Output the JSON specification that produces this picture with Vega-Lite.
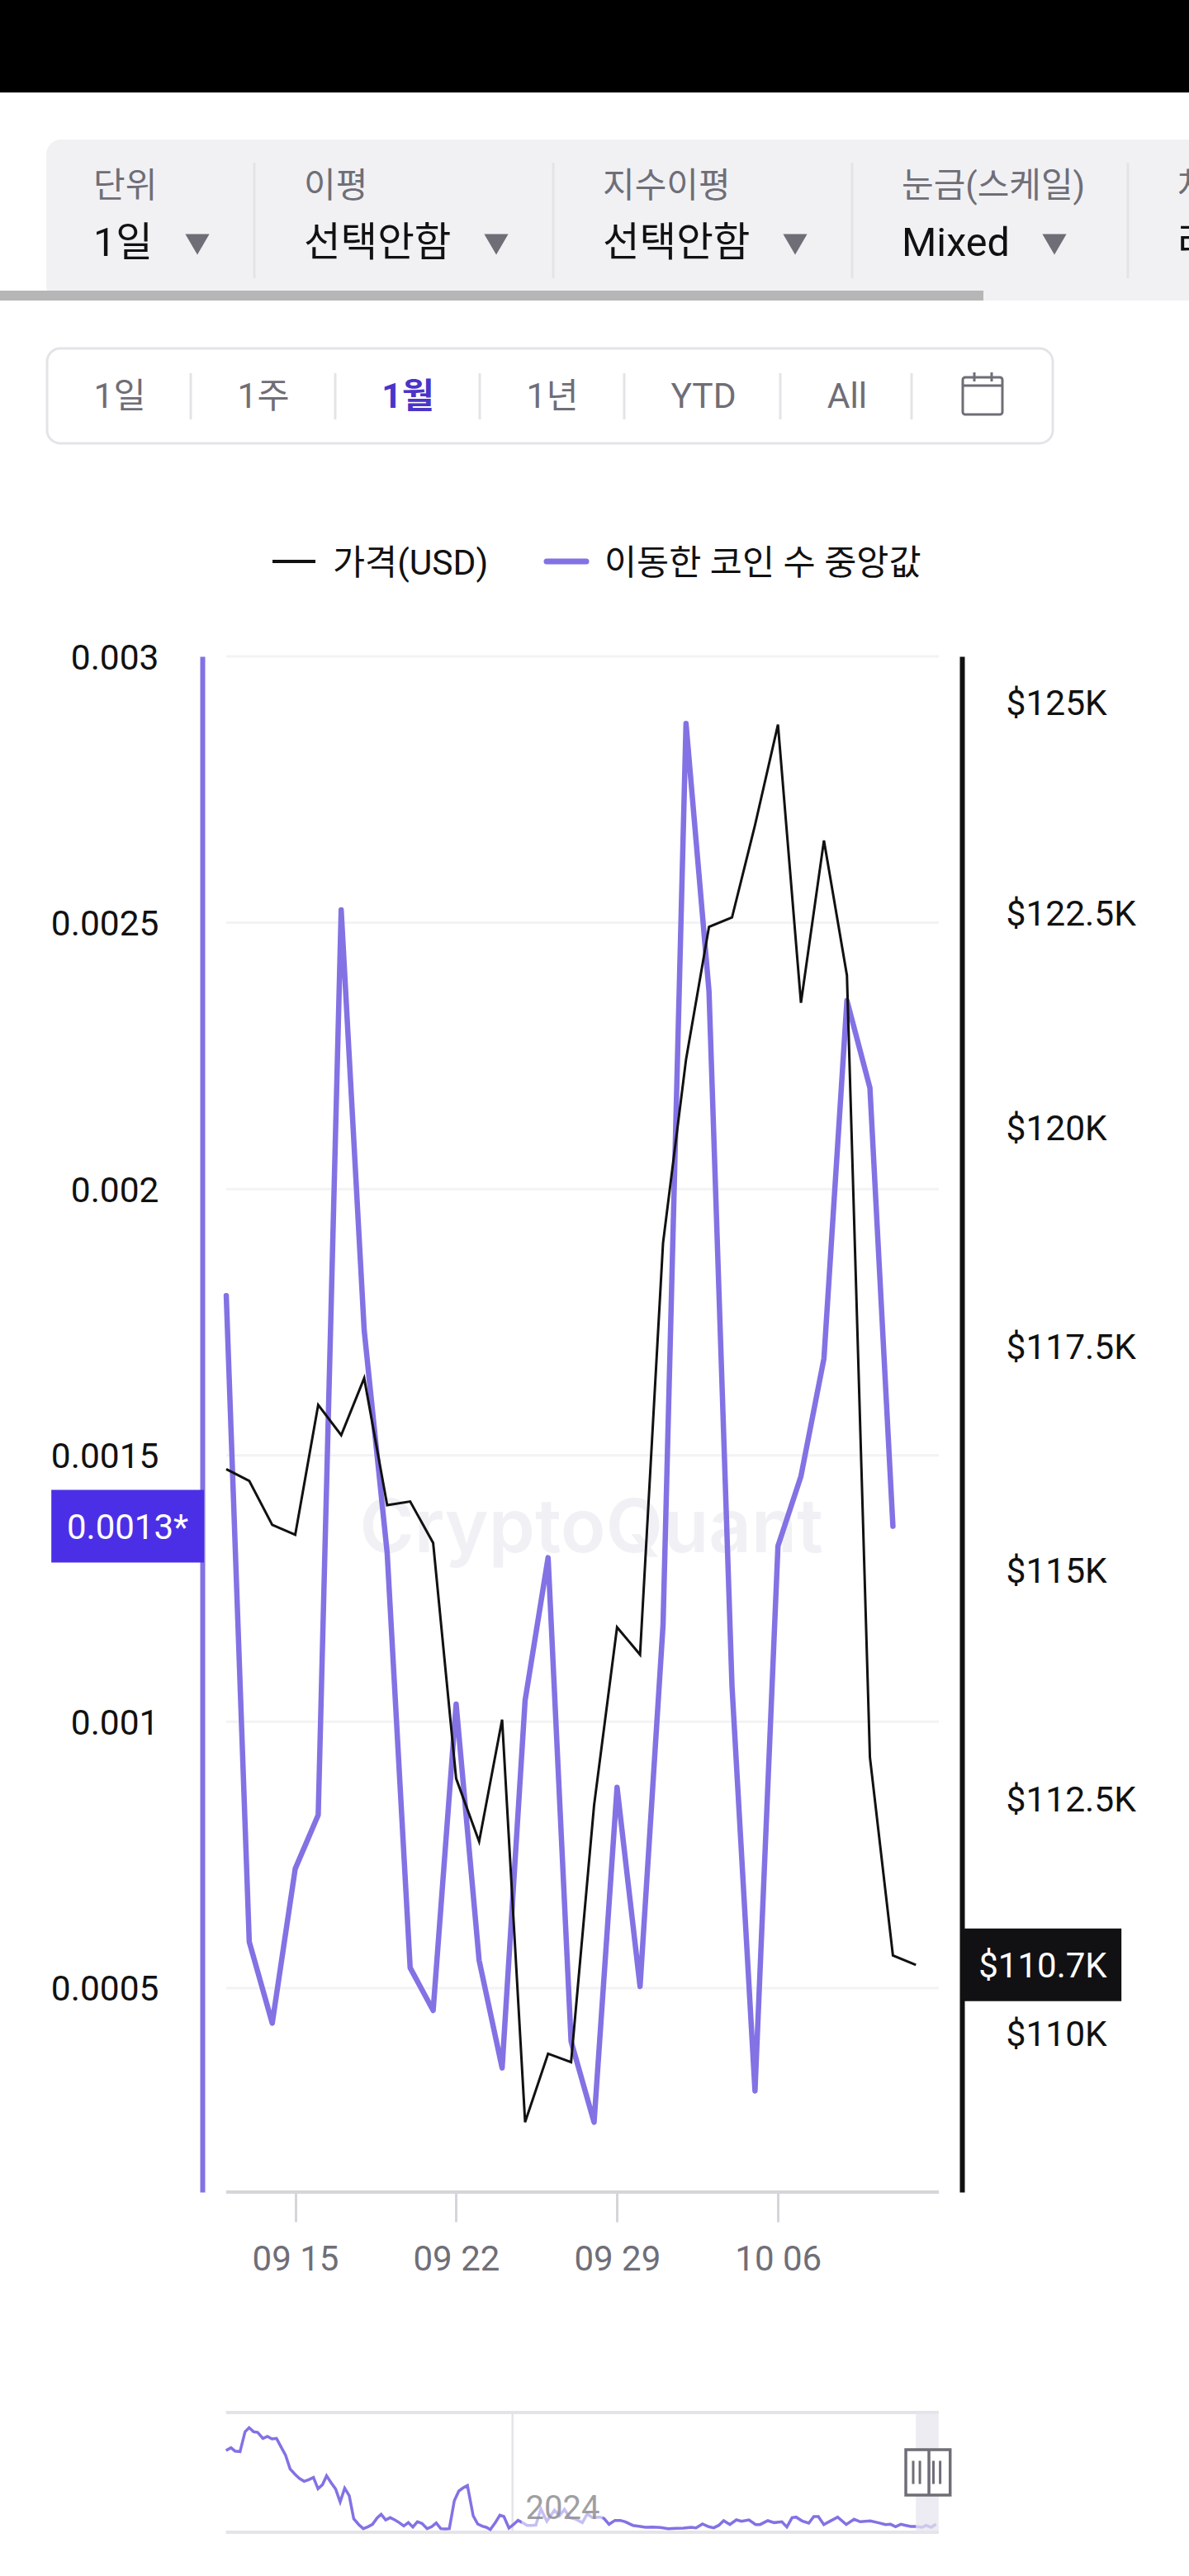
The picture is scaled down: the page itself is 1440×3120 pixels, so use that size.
{
  "$schema": "https://vega.github.io/schema/vega-lite/v6.json",
  "background": "white",
  "padding": 0,
  "spacing": 0,
  "bounds": "flush",
  "config": {
    "font": "Roboto, 'Noto Sans CJK KR', sans-serif",
    "view": {"stroke": null},
    "text": {"font": "Roboto, 'Noto Sans CJK KR', sans-serif"}
  },
  "datasets": {
    "daily": [
      {"date": "2025-09-12", "price": 116120, "median": 0.0018},
      {"date": "2025-09-13", "price": 115990, "median": 0.000587},
      {"date": "2025-09-14", "price": 115500, "median": 0.000434},
      {"date": "2025-09-15", "price": 115390, "median": 0.000724},
      {"date": "2025-09-16", "price": 116840, "median": 0.000825},
      {"date": "2025-09-17", "price": 116500, "median": 0.002524},
      {"date": "2025-09-18", "price": 117140, "median": 0.001735},
      {"date": "2025-09-19", "price": 115720, "median": 0.001317},
      {"date": "2025-09-20", "price": 115760, "median": 0.000538},
      {"date": "2025-09-21", "price": 115300, "median": 0.000458},
      {"date": "2025-09-22", "price": 112720, "median": 0.001033},
      {"date": "2025-09-23", "price": 112040, "median": 0.000552},
      {"date": "2025-09-24", "price": 113360, "median": 0.00035},
      {"date": "2025-09-25", "price": 109060, "median": 0.00104},
      {"date": "2025-09-26", "price": 109780, "median": 0.001308},
      {"date": "2025-09-27", "price": 109690, "median": 0.0004},
      {"date": "2025-09-28", "price": 112430, "median": 0.000248},
      {"date": "2025-09-29", "price": 114370, "median": 0.000877},
      {"date": "2025-09-30", "price": 114070, "median": 0.000503},
      {"date": "2025-10-01", "price": 118670, "median": 0.001181},
      {"date": "2025-10-02", "price": 120780, "median": 0.002874},
      {"date": "2025-10-03", "price": 122330, "median": 0.002371},
      {"date": "2025-10-04", "price": 122440, "median": 0.001067},
      {"date": "2025-10-05", "price": 123530, "median": 0.000307},
      {"date": "2025-10-06", "price": 124730, "median": 0.00133},
      {"date": "2025-10-07", "price": 121440, "median": 0.001461},
      {"date": "2025-10-08", "price": 123350, "median": 0.001682},
      {"date": "2025-10-09", "price": 121760, "median": 0.002354},
      {"date": "2025-10-10", "price": 112950, "median": 0.00219},
      {"date": "2025-10-11", "price": 110820, "median": 0.001367},
      {"date": "2025-10-12", "price": 110720, "median": null}
    ],
    "history": [
      {"year": 2022.798, "median": 0.02048}, {"year": 2022.819, "median": 0.02117}, {"year": 2022.836, "median": 0.02034},
      {"year": 2022.857, "median": 0.02021}, {"year": 2022.878, "median": 0.02517}, {"year": 2022.895, "median": 0.02621},
      {"year": 2022.914, "median": 0.02517}, {"year": 2022.931, "median": 0.02503}, {"year": 2022.953, "median": 0.02352},
      {"year": 2022.972, "median": 0.024}, {"year": 2022.991, "median": 0.02338}, {"year": 2023.01, "median": 0.02352},
      {"year": 2023.029, "median": 0.02138}, {"year": 2023.048, "median": 0.01931}, {"year": 2023.067, "median": 0.01586},
      {"year": 2023.088, "median": 0.01448}, {"year": 2023.107, "median": 0.01345}, {"year": 2023.126, "median": 0.01276},
      {"year": 2023.145, "median": 0.01317}, {"year": 2023.165, "median": 0.01372}, {"year": 2023.184, "median": 0.0109},
      {"year": 2023.203, "median": 0.01193}, {"year": 2023.22, "median": 0.01414}, {"year": 2023.239, "median": 0.01241},
      {"year": 2023.258, "median": 0.01083}, {"year": 2023.277, "median": 0.00759}, {"year": 2023.296, "median": 0.01103},
      {"year": 2023.315, "median": 0.00917}, {"year": 2023.334, "median": 0.00338}, {"year": 2023.355, "median": 0.00193},
      {"year": 2023.374, "median": 0.0009}, {"year": 2023.394, "median": 0.00138}, {"year": 2023.413, "median": 0.002},
      {"year": 2023.432, "median": 0.00359}, {"year": 2023.449, "median": 0.00448}, {"year": 2023.468, "median": 0.0031},
      {"year": 2023.487, "median": 0.00366}, {"year": 2023.506, "median": 0.0031}, {"year": 2023.525, "median": 0.00241},
      {"year": 2023.544, "median": 0.00159}, {"year": 2023.563, "median": 0.00241}, {"year": 2023.582, "median": 0.00131},
      {"year": 2023.601, "median": 0.00262}, {"year": 2023.62, "median": 0.00221}, {"year": 2023.642, "median": 0.0009},
      {"year": 2023.661, "median": 0.00138}, {"year": 2023.68, "median": 0.00234}, {"year": 2023.699, "median": 0.0009},
      {"year": 2023.718, "median": 0.00083}, {"year": 2023.735, "median": 0.0009}, {"year": 2023.756, "median": 0.00793},
      {"year": 2023.775, "median": 0.01034}, {"year": 2023.794, "median": 0.01117}, {"year": 2023.811, "median": 0.01172},
      {"year": 2023.835, "median": 0.00414}, {"year": 2023.854, "median": 0.00207}, {"year": 2023.873, "median": 0.00152},
      {"year": 2023.89, "median": 0.00124}, {"year": 2023.907, "median": 0.00069}, {"year": 2023.928, "median": 0.00241},
      {"year": 2023.947, "median": 0.00428}, {"year": 2023.964, "median": 0.00393}, {"year": 2023.985, "median": 0.00103},
      {"year": 2024.004, "median": 0.00193}, {"year": 2024.023, "median": 0.00297}, {"year": 2024.042, "median": 0.00241},
      {"year": 2024.061, "median": 0.00172}, {"year": 2024.081, "median": 0.00172}, {"year": 2024.098, "median": 0.00179},
      {"year": 2024.119, "median": 0.00586}, {"year": 2024.144, "median": 0.00276}, {"year": 2024.176, "median": 0.00552},
      {"year": 2024.197, "median": 0.00414}, {"year": 2024.218, "median": 0.00572}, {"year": 2024.24, "median": 0.00366},
      {"year": 2024.267, "median": 0.00324}, {"year": 2024.293, "median": 0.00241}, {"year": 2024.314, "median": 0.00462},
      {"year": 2024.335, "median": 0.00366}, {"year": 2024.367, "median": 0.00379}, {"year": 2024.384, "median": 0.00345},
      {"year": 2024.405, "median": 0.002}, {"year": 2024.43, "median": 0.00297}, {"year": 2024.452, "median": 0.00297},
      {"year": 2024.473, "median": 0.00262}, {"year": 2024.505, "median": 0.00172}, {"year": 2024.536, "median": 0.00145},
      {"year": 2024.558, "median": 0.00124}, {"year": 2024.59, "median": 0.00131}, {"year": 2024.621, "median": 0.00117},
      {"year": 2024.653, "median": 0.0009}, {"year": 2024.685, "median": 0.00097}, {"year": 2024.717, "median": 0.00103},
      {"year": 2024.749, "median": 0.00124}, {"year": 2024.77, "median": 0.0011}, {"year": 2024.797, "median": 0.00207},
      {"year": 2024.823, "median": 0.00138}, {"year": 2024.844, "median": 0.0011}, {"year": 2024.865, "median": 0.00172},
      {"year": 2024.886, "median": 0.0029}, {"year": 2024.912, "median": 0.00193}, {"year": 2024.939, "median": 0.0031},
      {"year": 2024.961, "median": 0.00276}, {"year": 2024.992, "median": 0.0031}, {"year": 2025.02, "median": 0.00193},
      {"year": 2025.039, "median": 0.00193}, {"year": 2025.071, "median": 0.0029}, {"year": 2025.098, "median": 0.00241},
      {"year": 2025.13, "median": 0.00262}, {"year": 2025.151, "median": 0.00131}, {"year": 2025.173, "median": 0.00366},
      {"year": 2025.19, "median": 0.00379}, {"year": 2025.215, "median": 0.00283}, {"year": 2025.243, "median": 0.00228},
      {"year": 2025.264, "median": 0.00393}, {"year": 2025.283, "median": 0.00393}, {"year": 2025.306, "median": 0.00193},
      {"year": 2025.332, "median": 0.00276}, {"year": 2025.364, "median": 0.00379}, {"year": 2025.4, "median": 0.00193},
      {"year": 2025.433, "median": 0.00324}, {"year": 2025.459, "median": 0.00262}, {"year": 2025.501, "median": 0.00283},
      {"year": 2025.533, "median": 0.00241}, {"year": 2025.565, "median": 0.00193}, {"year": 2025.586, "median": 0.002},
      {"year": 2025.607, "median": 0.00138}, {"year": 2025.629, "median": 0.002}, {"year": 2025.65, "median": 0.00172},
      {"year": 2025.671, "median": 0.00145}, {"year": 2025.692, "median": 0.00145}, {"year": 2025.718, "median": 0.00124},
      {"year": 2025.735, "median": 0.00172}, {"year": 2025.756, "median": 0.00124}, {"year": 2025.777, "median": 0.002}
    ]
  },
  "vconcat": [
    {
      "width": 1440,
      "height": 112,
      "data": {"values": [{"part": "status bar"}]},
      "mark": {"type": "rect", "color": "#000000"}
    },
    {
      "width": 1440,
      "height": 683,
      "resolve": {"scale": {"x": "independent", "y": "independent"}},
      "layer": [
        {
          "data": {"values": [{"from": 0, "to": 1}]},
          "mark": {"type": "rect", "color": "#f1f1f4", "cornerRadius": 18},
          "encoding": {
            "x": {"field": "from", "type": "quantitative", "axis": null, "scale": {"domain": [0, 1], "range": [56, 1500]}},
            "x2": {"field": "to"},
            "y": {"field": "from", "type": "quantitative", "axis": null, "scale": {"domain": [0, 1], "range": [57, 252]}},
            "y2": {"field": "to"}
          }
        },
        {
          "data": {"values": [{"from": 0, "to": 1}]},
          "mark": {"type": "rect", "color": "#b6b6b6"},
          "encoding": {
            "x": {"field": "from", "type": "quantitative", "axis": null, "scale": {"domain": [0, 1], "range": [0, 1191]}},
            "x2": {"field": "to"},
            "y": {"field": "from", "type": "quantitative", "axis": null, "scale": {"domain": [0, 1], "range": [240, 252]}},
            "y2": {"field": "to"}
          }
        },
        {
          "data": {"values": [{"col": 0, "from": 0, "to": 1}, {"col": 1, "from": 0, "to": 1}, {"col": 2, "from": 0, "to": 1}, {"col": 3, "from": 0, "to": 1}]},
          "mark": {"type": "rule", "color": "#e4e4e8", "strokeWidth": 3},
          "encoding": {
            "x": {"field": "col", "type": "quantitative", "axis": null, "scale": {"domain": [0, 1, 2, 3], "range": [308, 670, 1032, 1366]}},
            "y": {"field": "from", "type": "quantitative", "axis": null, "scale": {"domain": [0, 1], "range": [85, 225]}},
            "y2": {"field": "to"}
          }
        },
        {
          "data": {"values": [{"col": 0, "label": "단위"}, {"col": 1, "label": "이평"}, {"col": 2, "label": "지수이평"}, {"col": 3, "label": "눈금(스케일)"}, {"col": 4, "label": "차트"}]},
          "mark": {"type": "text", "align": "left", "baseline": "middle", "fontSize": 42, "color": "#6f6e77", "clip": true, "y": 114},
          "encoding": {
            "x": {"field": "col", "type": "quantitative", "axis": null, "scale": {"domain": [0, 1, 2, 3, 4], "range": [113, 368, 730, 1092, 1426]}},
            "text": {"field": "label"}
          }
        },
        {
          "data": {"values": [{"col": 0, "label": "1일"}, {"col": 1, "label": "선택안함"}, {"col": 2, "label": "선택안함"}, {"col": 3, "label": "Mixed"}, {"col": 4, "label": "라인"}]},
          "mark": {"type": "text", "align": "left", "baseline": "middle", "fontSize": 48.5, "color": "#111111", "clip": true, "y": 183},
          "encoding": {
            "x": {"field": "col", "type": "quantitative", "axis": null, "scale": {"domain": [0, 1, 2, 3, 4], "range": [113, 368, 730, 1092, 1426]}},
            "text": {"field": "label"}
          }
        },
        {
          "data": {"values": [{"col": 0}, {"col": 1}, {"col": 2}, {"col": 3}]},
          "mark": {"type": "point", "shape": "triangle-down", "filled": true, "size": 850, "color": "#6f6e77", "opacity": 1, "y": 184},
          "encoding": {
            "x": {"field": "col", "type": "quantitative", "axis": null, "scale": {"domain": [0, 1, 2, 3], "range": [239, 601, 963, 1277]}}
          }
        },
        {
          "data": {"values": [{"from": 0, "to": 1}]},
          "mark": {"type": "rect", "fill": "#ffffff", "stroke": "#e4e4e8", "strokeWidth": 3, "cornerRadius": 16},
          "encoding": {
            "x": {"field": "from", "type": "quantitative", "axis": null, "scale": {"domain": [0, 1], "range": [57, 1275]}},
            "x2": {"field": "to"},
            "y": {"field": "from", "type": "quantitative", "axis": null, "scale": {"domain": [0, 1], "range": [310, 425]}},
            "y2": {"field": "to"}
          }
        },
        {
          "data": {"values": [{"col": 0, "from": 0, "to": 1}, {"col": 1, "from": 0, "to": 1}, {"col": 2, "from": 0, "to": 1}, {"col": 3, "from": 0, "to": 1}, {"col": 4, "from": 0, "to": 1}, {"col": 5, "from": 0, "to": 1}]},
          "mark": {"type": "rule", "color": "#e4e4e8", "strokeWidth": 3},
          "encoding": {
            "x": {"field": "col", "type": "quantitative", "axis": null, "scale": {"domain": [0, 1, 2, 3, 4, 5], "range": [231, 406, 581, 756, 945, 1104]}},
            "y": {"field": "from", "type": "quantitative", "axis": null, "scale": {"domain": [0, 1], "range": [340, 396]}},
            "y2": {"field": "to"}
          }
        },
        {
          "data": {"values": [{"col": 0, "label": "1일"}, {"col": 1, "label": "1주"}, {"col": 3, "label": "1년"}, {"col": 4, "label": "YTD"}, {"col": 5, "label": "All"}]},
          "mark": {"type": "text", "align": "center", "baseline": "middle", "fontSize": 42.5, "color": "#6f6e77", "y": 369},
          "encoding": {
            "x": {"field": "col", "type": "quantitative", "axis": null, "scale": {"domain": [0, 1, 2, 3, 4, 5], "range": [145, 319, 494, 669, 852, 1026]}},
            "text": {"field": "label"}
          }
        },
        {
          "data": {"values": [{"col": 2, "label": "1월"}]},
          "mark": {"type": "text", "align": "center", "baseline": "middle", "fontSize": 42.5, "fontWeight": "bold", "color": "#4b34c9", "y": 369},
          "encoding": {
            "x": {"field": "col", "type": "quantitative", "axis": null, "scale": {"domain": [0, 1, 2, 3, 4, 5], "range": [145, 319, 494, 669, 852, 1026]}},
            "text": {"field": "label"}
          }
        },
        {
          "data": {"values": [{"from": 0, "to": 1}]},
          "mark": {"type": "rect", "fill": "#ffffff", "stroke": "#6f6e77", "strokeWidth": 3, "cornerRadius": 3},
          "encoding": {
            "x": {"field": "from", "type": "quantitative", "axis": null, "scale": {"domain": [0, 1], "range": [1166, 1214]}},
            "x2": {"field": "to"},
            "y": {"field": "from", "type": "quantitative", "axis": null, "scale": {"domain": [0, 1], "range": [345, 390]}},
            "y2": {"field": "to"}
          }
        },
        {
          "data": {"values": [{"from": 0, "to": 1}]},
          "mark": {"type": "rule", "color": "#6f6e77", "strokeWidth": 3},
          "encoding": {
            "x": {"field": "from", "type": "quantitative", "axis": null, "scale": {"domain": [0, 1], "range": [1166, 1214]}},
            "x2": {"field": "to"},
            "y": {"field": "from", "type": "quantitative", "axis": null, "scale": {"domain": [0, 1], "range": [355, 355]}}
          }
        },
        {
          "data": {"values": [{"col": 0, "from": 0, "to": 1}, {"col": 1, "from": 0, "to": 1}]},
          "mark": {"type": "rule", "color": "#6f6e77", "strokeWidth": 3},
          "encoding": {
            "x": {"field": "col", "type": "quantitative", "axis": null, "scale": {"domain": [0, 1], "range": [1180, 1201]}},
            "y": {"field": "from", "type": "quantitative", "axis": null, "scale": {"domain": [0, 1], "range": [339, 350]}},
            "y2": {"field": "to"}
          }
        },
        {
          "data": {"values": [{"from": 0, "to": 1}]},
          "mark": {"type": "rule", "color": "#111111", "strokeWidth": 4},
          "encoding": {
            "x": {"field": "from", "type": "quantitative", "axis": null, "scale": {"domain": [0, 1], "range": [330, 382]}},
            "x2": {"field": "to"},
            "y": {"field": "from", "type": "quantitative", "axis": null, "scale": {"domain": [0, 1], "range": [568, 568]}}
          }
        },
        {
          "data": {"values": [{"from": 0, "to": 1}]},
          "mark": {"type": "rule", "color": "#8272e4", "strokeWidth": 7, "strokeCap": "round"},
          "encoding": {
            "x": {"field": "from", "type": "quantitative", "axis": null, "scale": {"domain": [0, 1], "range": [662, 710]}},
            "x2": {"field": "to"},
            "y": {"field": "from", "type": "quantitative", "axis": null, "scale": {"domain": [0, 1], "range": [568, 568]}}
          }
        },
        {
          "data": {"values": [{"col": 0, "label": "가격(USD)"}, {"col": 1, "label": "이동한 코인 수 중앙값"}]},
          "mark": {"type": "text", "align": "left", "baseline": "middle", "fontSize": 42.5, "color": "#111111", "y": 571},
          "encoding": {
            "x": {"field": "col", "type": "quantitative", "axis": null, "scale": {"domain": [0, 1], "range": [403, 732]}},
            "text": {"field": "label"}
          }
        }
      ]
    },
    {
      "width": 1440,
      "height": 1860,
      "resolve": {"scale": {"y": "independent"}},
      "layer": [
        {
          "data": {
            "values": [
              {"start": "2025-09-12", "end": "2025-10-13", "median": 0.0005},
              {"start": "2025-09-12", "end": "2025-10-13", "median": 0.001},
              {"start": "2025-09-12", "end": "2025-10-13", "median": 0.0015},
              {"start": "2025-09-12", "end": "2025-10-13", "median": 0.002},
              {"start": "2025-09-12", "end": "2025-10-13", "median": 0.0025},
              {"start": "2025-09-12", "end": "2025-10-13", "median": 0.003}
            ],
            "format": {"parse": {"start": "date", "end": "date"}}
          },
          "mark": {"type": "rule", "color": "#f3f3f5", "strokeWidth": 3},
          "encoding": {
            "x": {
              "field": "start",
              "type": "temporal",
              "title": null,
              "scale": {
                "type": "utc",
                "domain": [
                  {"year": 2025, "month": 9, "date": 2, "hours": 3, "minutes": 47, "utc": true},
                  {"year": 2025, "month": 10, "date": 23, "hours": 21, "minutes": 7, "utc": true}
                ]
              },
              "axis": {
                "values": [
                  {"year": 2025, "month": 9, "date": 15, "utc": true},
                  {"year": 2025, "month": 9, "date": 22, "utc": true},
                  {"year": 2025, "month": 9, "date": 29, "utc": true},
                  {"year": 2025, "month": 10, "date": 6, "utc": true}
                ],
                "format": "%m %d",
                "domain": false,
                "grid": false,
                "tickSize": 36,
                "tickWidth": 3,
                "tickColor": "#d5d5da",
                "labelFontSize": 42,
                "labelColor": "#6f6e77",
                "labelPadding": 25
              }
            },
            "x2": {"field": "end"},
            "y": {
              "field": "median",
              "type": "quantitative",
              "title": null,
              "scale": {"domain": [0.000117, 0.003], "nice": false, "zero": false},
              "axis": {
                "orient": "left",
                "offset": -245,
                "values": [0.0005, 0.001, 0.0015, 0.002, 0.0025, 0.003],
                "format": ".4~f",
                "grid": false,
                "ticks": false,
                "domainColor": "#8272e4",
                "domainWidth": 6,
                "labelFontSize": 42.5,
                "labelColor": "#111111",
                "labelPadding": 53,
                "labelOffset": 2
              }
            }
          }
        },
        {
          "data": {
            "values": [{"start": "2025-09-12", "end": "2025-10-13", "median": 0.000117}],
            "format": {"parse": {"start": "date", "end": "date"}}
          },
          "mark": {"type": "rule", "color": "#d5d5da", "strokeWidth": 4},
          "encoding": {
            "x": {"field": "start", "type": "temporal"},
            "x2": {"field": "end"},
            "y": {"field": "median", "type": "quantitative", "axis": null, "scale": {"domain": [0.000117, 0.003], "nice": false, "zero": false}}
          }
        },
        {
          "data": {
            "values": [{"label": "CryptoQuant", "date": "2025-09-27T21:07:00Z", "median": 0.00136}],
            "format": {"parse": {"date": "date"}}
          },
          "mark": {"type": "text", "align": "center", "baseline": "middle", "font": "Inter", "fontSize": 90, "fontWeight": 600, "color": "#f1f1f5"},
          "encoding": {
            "x": {"field": "date", "type": "temporal"},
            "y": {"field": "median", "type": "quantitative", "axis": null, "scale": {"domain": [0.000117, 0.003], "nice": false, "zero": false}},
            "text": {"field": "label"}
          }
        },
        {
          "data": {"name": "daily"},
          "mark": {"type": "line", "color": "#8272e4", "strokeWidth": 6.5, "strokeCap": "round", "strokeJoin": "round"},
          "encoding": {
            "x": {"field": "date", "type": "temporal"},
            "y": {"field": "median", "type": "quantitative", "axis": null, "scale": {"domain": [0.000117, 0.003], "nice": false, "zero": false}}
          }
        },
        {
          "data": {"name": "daily"},
          "mark": {"type": "line", "color": "#111111", "strokeWidth": 3},
          "encoding": {
            "x": {"field": "date", "type": "temporal"},
            "y": {
              "field": "price",
              "type": "quantitative",
              "title": null,
              "scale": {"type": "log", "domain": [108330, 125550], "nice": false},
              "axis": {
                "orient": "right",
                "offset": -275,
                "values": [110000, 112500, 115000, 117500, 120000, 122500, 125000],
                "labelExpr": "'$' + datum.value / 1000 + 'K'",
                "grid": false,
                "ticks": false,
                "domainColor": "#111111",
                "domainWidth": 6,
                "labelFontSize": 42.5,
                "labelColor": "#111111",
                "labelPadding": 53,
                "labelOffset": 2
              }
            }
          }
        },
        {
          "data": {
            "values": [{"label": "0.0013*", "median": 0.001367, "start": "2025-09-04T09:22:00Z", "end": "2025-09-11T00:43:00Z"}],
            "format": {"parse": {"start": "date", "end": "date"}}
          },
          "mark": {"type": "rule", "color": "#4b2fe6", "strokeWidth": 88},
          "encoding": {
            "x": {"field": "start", "type": "temporal"},
            "x2": {"field": "end"},
            "y": {"field": "median", "type": "quantitative", "axis": null, "scale": {"domain": [0.000117, 0.003], "nice": false, "zero": false}}
          }
        },
        {
          "data": {
            "values": [{"label": "0.0013*", "median": 0.001367, "mid": "2025-09-07T17:02:00Z"}],
            "format": {"parse": {"mid": "date"}}
          },
          "mark": {"type": "text", "align": "center", "baseline": "middle", "fontSize": 42, "dy": 2, "color": "#ffffff"},
          "encoding": {
            "x": {"field": "mid", "type": "temporal"},
            "y": {"field": "median", "type": "quantitative", "axis": null, "scale": {"domain": [0.000117, 0.003], "nice": false, "zero": false}},
            "text": {"field": "label"}
          }
        },
        {
          "data": {
            "values": [{"label": "$110.7K", "price": 110720, "start": "2025-10-14T02:10:00Z", "end": "2025-10-20T22:34:00Z"}],
            "format": {"parse": {"start": "date", "end": "date"}}
          },
          "mark": {"type": "rule", "color": "#111114", "strokeWidth": 88},
          "encoding": {
            "x": {"field": "start", "type": "temporal"},
            "x2": {"field": "end"},
            "y": {"field": "price", "type": "quantitative", "axis": null, "scale": {"type": "log", "domain": [108330, 125550], "nice": false}}
          }
        },
        {
          "data": {
            "values": [{"label": "$110.7K", "price": 110720, "mid": "2025-10-17T12:29:00Z"}],
            "format": {"parse": {"mid": "date"}}
          },
          "mark": {"type": "text", "align": "center", "baseline": "middle", "fontSize": 42, "dy": 2, "color": "#ffffff"},
          "encoding": {
            "x": {"field": "mid", "type": "temporal"},
            "y": {"field": "price", "type": "quantitative", "axis": null, "scale": {"type": "log", "domain": [108330, 125550], "nice": false}},
            "text": {"field": "label"}
          }
        }
      ]
    },
    {
      "width": 1440,
      "height": 465,
      "encoding": {
        "x": {
          "field": "year",
          "type": "quantitative",
          "axis": null,
          "scale": {"domain": [2021.85, 2026.838], "nice": false, "zero": false}
        },
        "y": {
          "field": "median",
          "type": "quantitative",
          "axis": null,
          "scale": {"domain": [0, 0.03], "range": [412, 267], "nice": false, "zero": false}
        }
      },
      "layer": [
        {
          "data": {"values": [{"year": 2022.798, "end": 2025.788, "median": 0}, {"year": 2022.798, "end": 2025.788, "median": 0.03}]},
          "mark": {"type": "rule", "color": "#e4e4e8", "strokeWidth": 4},
          "encoding": {"x2": {"field": "end"}}
        },
        {
          "data": {"values": [{"year": 2024, "median": 0, "top": 0.03}]},
          "mark": {"type": "rule", "color": "#e4e4e8", "strokeWidth": 2.5},
          "encoding": {"y2": {"field": "top"}}
        },
        {
          "data": {"name": "history"},
          "mark": {"type": "line", "color": "#8272e4", "strokeWidth": 3.5}
        },
        {
          "data": {"values": [{"year": 2024.038, "end": 2024.377, "median": 0.001, "top": 0.0068}]},
          "mark": {"type": "rect", "color": "#ffffff", "opacity": 0.55},
          "encoding": {"x2": {"field": "end"}, "y2": {"field": "top"}}
        },
        {
          "data": {"values": [{"label": "2024", "year": 2024.055, "median": 0.0062}]},
          "mark": {"type": "text", "align": "left", "baseline": "middle", "fontSize": 40, "dy": 2, "color": "#8f8f93", "opacity": 0.85},
          "encoding": {"text": {"field": "label"}}
        },
        {
          "data": {"values": [{"year": 2025.692, "end": 2025.788, "median": 0, "top": 0.03}]},
          "mark": {"type": "rect", "color": "#e6e6ee", "opacity": 0.75},
          "encoding": {"x2": {"field": "end"}, "y2": {"field": "top"}}
        },
        {
          "data": {"values": [{"year": 2025.65, "end": 2025.836, "median": 0.0093, "top": 0.0207}]},
          "mark": {"type": "rect", "fill": "#ffffff", "stroke": "#6f6e77", "strokeWidth": 3.5},
          "encoding": {"x2": {"field": "end"}, "y2": {"field": "top"}}
        },
        {
          "data": {"values": [{"year": 2025.747, "median": 0.0093, "top": 0.0207}]},
          "mark": {"type": "rule", "color": "#6f6e77", "strokeWidth": 3.5},
          "encoding": {"y2": {"field": "top"}}
        },
        {
          "data": {"values": [{"year": 2025.681, "median": 0.0121, "top": 0.0179}, {"year": 2025.709, "median": 0.0121, "top": 0.0179}, {"year": 2025.766, "median": 0.0121, "top": 0.0179}, {"year": 2025.794, "median": 0.0121, "top": 0.0179}]},
          "mark": {"type": "rule", "color": "#6f6e77", "strokeWidth": 3},
          "encoding": {"y2": {"field": "top"}}
        }
      ]
    }
  ]
}
